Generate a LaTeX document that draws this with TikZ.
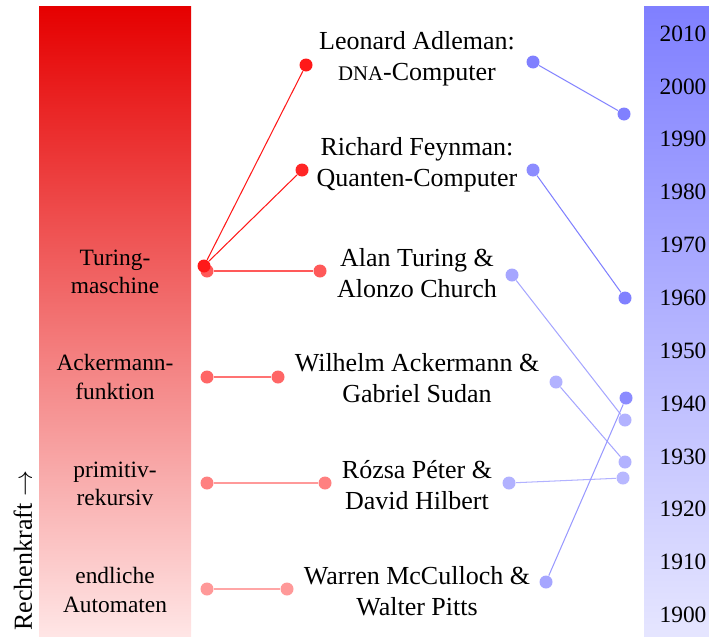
\documentclass[tikz,border=0pt]{standalone}
\usepackage{fontspec}
\setmainfont{Liberation Serif}
\newcommand{\fakesc}[1]{{\fontsize{8pt}{9pt}\selectfont #1}}

\begin{document}
\begin{tikzpicture}[x=0.3846pt, y=-0.3846pt,
  dot/.style={circle,fill=#1,inner sep=0pt,minimum size=5pt},
  lvl/.style={font=\small,align=center},
  who/.style={align=center},
  yr/.style={font=\small}]
\useasboundingbox (0,0) rectangle (709,636);
\shade[top color=red!90!black, bottom color=red!10] (39,6) rectangle (191,636);
\shade[top color=blue!50, bottom color=blue!10] (644,6) rectangle (709,636);
\node[rotate=90,anchor=base west,inner sep=0pt] (rk) at (32,631) {Rechenkraft $\rightarrow$};
\foreach \yr [count=\i from 0] in {2010,2000,...,1900}
  \node[yr] (y\yr) at (683,{33.5+\i*52.86}) {\yr};
% Rechenmodelle
\node[lvl] (tm) at (115,272) {Turing-\\maschine};
\node[lvl] (ack) at (115,377) {Ackermann-\\funktion};
\node[lvl] (prim) at (115,484) {primitiv-\\rekursiv};
\node[lvl] (end) at (115,590) {endliche\\Automaten};
% Personen
\node[who] (adl) at (417,59) {Leonard Adleman:\\\fakesc{DNA}-Computer};
\node[who] (fey) at (417,165) {Richard Feynman:\\Quanten-Computer};
\node[who] (tur) at (417,273) {Alan Turing \&\\Alonzo Church};
\node[who] (wil) at (417,378) {Wilhelm Ackermann \&\\Gabriel Sudan};
\node[who] (pet) at (417,485) {Rózsa Péter \&\\David Hilbert};
\node[who] (mcc) at (417,591) {Warren McCulloch \&\\Walter Pitts};
% rote Punkte
\node[dot=red!65] (tm-b) at (207,271) {};
\node[dot=red!90] (tm-a) at (204,266) {};
\node[dot=red!90] (adl-r) at (306,65) {};
\node[dot=red!85] (fey-r) at (302,170) {};
\node[dot=red!65] (tur-r) at (320,271) {};
\node[dot=red!60] (ack-l) at (207,377) {};
\node[dot=red!60] (ack-r) at (278,377) {};
\node[dot=red!50] (prim-l) at (207,483) {};
\node[dot=red!50] (pet-r) at (325,483) {};
\node[dot=red!40] (end-l) at (207,589) {};
\node[dot=red!40] (mcc-r) at (287,589) {};
\draw[red!90] (tm-a) -- (adl-r);
\draw[red!90] (tm-a) -- (fey-r);
\draw[red!65] (tm-b) -- (tur-r);
\draw[red!55] (ack-l) -- (ack-r);
\draw[red!40] (prim-l) -- (pet-r);
\draw[red!35] (end-l) -- (mcc-r);
% blaue Punkte
\node[dot=blue!50] (adl-b) at (533,62) {};
\node[dot=blue!50] (adl-y) at (624,114) {};
\node[dot=blue!45] (fey-b) at (533,170) {};
\node[dot=blue!50] (fey-y) at (625,298) {};
\node[dot=blue!35] (tur-b) at (512,275) {};
\node[dot=blue!30] (tur-y) at (625,420) {};
\node[dot=blue!30] (ack-b) at (556,382) {};
\node[dot=blue!30] (ack-y) at (625,462) {};
\node[dot=blue!30] (pet-b) at (509,483) {};
\node[dot=blue!28] (pet-y) at (623,478) {};
\node[dot=blue!35] (mcc-b) at (546,582) {};
\node[dot=blue!45] (mcc-y) at (626,398) {};
\draw[blue!50] (adl-b) -- (adl-y);
\draw[blue!50] (fey-b) -- (fey-y);
\draw[blue!35] (tur-b) -- (tur-y);
\draw[blue!35] (ack-b) -- (ack-y);
\draw[blue!30] (pet-b) -- (pet-y);
\draw[blue!40] (mcc-b) -- (mcc-y);
\end{tikzpicture}
\end{document}
